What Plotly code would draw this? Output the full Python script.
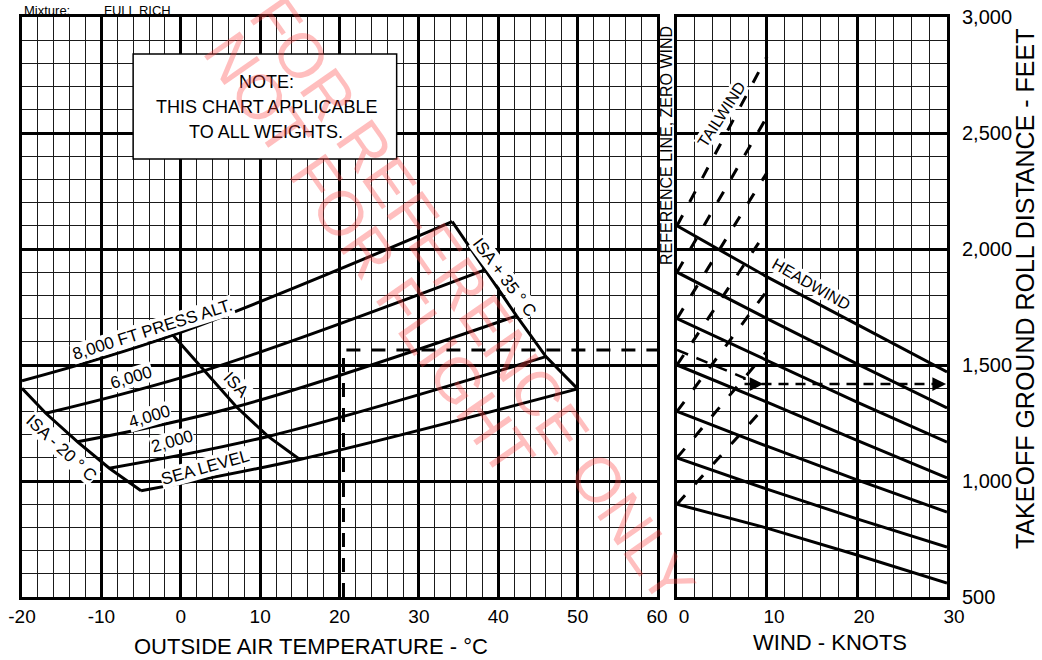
import plotly.graph_objects as go

# ---------------- data ----------------
# Left panel: outside air temperature (deg C) vs takeoff ground roll (ft)
oat_ticks = [-20, -10, 0, 10, 20, 30, 40, 50, 60]
oat_tick_labels = ["-20", "-10", "0", "10", "20", "30", "40", "50", "60"]

sl_oat = [-5, 15, 50]
sl_roll = [958, 1093, 1397]
alt2000_oat = [-9, 11, 46]
alt2000_roll = [1055, 1192, 1536]
alt4000_oat = [-13, 7, 42.3]
alt4000_roll = [1169, 1320, 1712]
alt6000_oat = [-17, 3, 38.3]
alt6000_roll = [1292, 1476, 1910]
alt8000_oat = [-20, -1, 34.2]
alt8000_roll = [1432, 1629, 2118]

isa_m20_oat = [-20, -17, -13, -9, -5]
isa_m20_roll = [1400, 1292, 1169, 1055, 958]
isa_oat = [-1, 3, 7, 11, 15]
isa_roll = [1629, 1476, 1320, 1192, 1093]
isa_p35_oat = [34.2, 38.3, 42.3, 46, 50]
isa_p35_roll = [2118, 1910, 1712, 1536, 1397]

# Right panel: wind (knots)
wind_ticks = [0, 10, 20, 30]
wind_tick_labels = ["0", "10", "20", "30"]
roll_ticks = [500, 1000, 1500, 2000, 2500, 3000]
roll_tick_labels = ["500", "1,000", "1,500", "2,000", "2,500", "3,000"]

headwind_kts = [0, 10, 20, 30]
headwind_rolls = [
    [2100, 1880, 1675, 1470],
    [1900, 1700, 1505, 1315],
    [1700, 1520, 1340, 1168],
    [1500, 1340, 1175, 1013],
    [1300, 1150, 1005, 866],
    [1100, 965, 837, 715],
    [900, 797, 681, 560],
]
tailwind_kts = [0, 10]
tailwind_rolls = [
    [2100, 2830],
    [1900, 2570],
    [1700, 2330],
    [1500, 2080],
    [1300, 1820],
    [1100, 1560],
    [900, 1330],
]

# Example (dashed) path
ex_oat = [20.5, 20.5, 60]
ex_roll = [500, 1565, 1565]
ex_wind_diag = [0, 7.5, 7.5]
ex_wind_diag_roll = [1565, 1444, 1418]
ex_wind_out = [7.5, 29.6]
ex_wind_out_roll = [1418, 1418]

FONT = "Liberation Sans, Arial, sans-serif"

fig = go.Figure()


def add_line(x, y, xa, ya, dash="solid", width=3, shape="linear"):
    fig.add_trace(go.Scatter(
        x=x, y=y, xaxis=xa, yaxis=ya, mode="lines",
        line=dict(color="black", width=width, dash=dash, shape=shape),
        hoverinfo="skip", showlegend=False))


for xs, ys in [(sl_oat, sl_roll), (alt2000_oat, alt2000_roll), (alt4000_oat, alt4000_roll),
               (alt6000_oat, alt6000_roll), (alt8000_oat, alt8000_roll)]:
    add_line(xs, ys, "x", "y", shape="spline")
add_line(isa_m20_oat, isa_m20_roll, "x", "y")
add_line(isa_oat, isa_roll, "x", "y")
add_line(isa_p35_oat, isa_p35_roll, "x", "y")

# example path left panel
add_line(ex_oat, ex_roll, "x", "y", dash="14px,11px", width=3)

for r in headwind_rolls:
    add_line(headwind_kts, r, "x2", "y2")
for r in tailwind_rolls:
    add_line(tailwind_kts, r, "x2", "y2", dash="12px,15px", width=3)

add_line(ex_wind_diag, ex_wind_diag_roll, "x2", "y2", dash="12px,9px", width=2.5)
add_line(ex_wind_out, ex_wind_out_roll, "x2", "y2", dash="10px,7px", width=2.5)

grid_major = dict(showgrid=True, gridcolor="black", gridwidth=2.5)
grid_minor_col = "#1a1a1a"
common = dict(automargin=False, ticks="", showline=True, linecolor="black", linewidth=3,
              mirror=True, zeroline=False, **grid_major)

fig.update_layout(
    width=1042, height=660,
    margin=dict(l=22, r=95, t=17, b=63, autoexpand=False),
    paper_bgcolor="white", plot_bgcolor="white",
    font=dict(family=FONT, color="black"),
    xaxis=dict(domain=[0, 0.6865], range=[-20, 60], anchor="y",
               tickmode="array", tickvals=oat_ticks, ticktext=oat_tick_labels,
               tickfont=dict(size=19), ticklabelstandoff=0,
               minor=dict(tickmode="linear", tick0=-20, dtick=2, showgrid=True,
                          gridcolor=grid_minor_col, gridwidth=1.1, ticks=""),
               **common),
    yaxis=dict(domain=[0, 1], range=[500, 3000], anchor="x",
               tickmode="array", tickvals=roll_ticks, showticklabels=False,
               minor=dict(tickmode="linear", tick0=500, dtick=100, showgrid=True,
                          gridcolor=grid_minor_col, gridwidth=1.1, ticks=""),
               **common),
    xaxis2=dict(domain=[0.7081, 1], range=[0, 30], anchor="y2",
                tickmode="array", tickvals=wind_ticks, ticktext=wind_tick_labels,
                tickfont=dict(size=19), ticklabelstandoff=0, ticklabelshift=7,
                minor=dict(tickmode="linear", tick0=0, dtick=2, showgrid=True,
                           gridcolor=grid_minor_col, gridwidth=1.1, ticks=""),
                **common),
    yaxis2=dict(domain=[0, 1], range=[500, 3000], anchor="x2", side="right",
                tickmode="array", tickvals=roll_ticks, ticktext=roll_tick_labels,
                tickfont=dict(size=20), ticklabelstandoff=8,
                minor=dict(tickmode="linear", tick0=500, dtick=100, showgrid=True,
                           gridcolor=grid_minor_col, gridwidth=1.1, ticks=""),
                **common),
)

# NOTE box
fig.add_shape(type="rect", xref="x", yref="y", x0=-6, x1=27.2, y0=2388, y1=2840,
              fillcolor="white", line=dict(color="black", width=1.5), layer="above")

ann = []


def label(text, x, y, xref="x", yref="y", size=17, angle=0, bg="white",
          xanchor="center", yanchor="middle"):
    ann.append(dict(text=text, x=x, y=y, xref=xref, yref=yref, showarrow=False,
                    textangle=angle, bgcolor=bg, borderpad=0,
                    xanchor=xanchor, yanchor=yanchor,
                    font=dict(family=FONT, size=size, color="black")))


label("NOTE:", 10.8, 2721, size=18, bg=None)
label("THIS CHART APPLICABLE", 10.8, 2612, size=18, bg=None)
label("TO ALL WEIGHTS.", 10.8, 2505, size=18, bg=None)

label("8,000 FT PRESS ALT.", -3.5, 1655, angle=-17.5)
label("6,000", -6.2, 1445, angle=-17)
label("4,000", -3.9, 1279, angle=-17)
label("2,000", -1.1, 1170, angle=-16)
label("SEA LEVEL", 3.1, 1057, angle=-15.5)
label("ISA", 6.9, 1414, angle=47)
label("ISA - 20 ° C", -15.0, 1141, angle=43)
label("ISA + 35 ° C", 40.8, 1878, angle=53)
label("TAILWIND", 4.97, 2578, xref="x2", yref="y2", size=16, angle=-57)
label("HEADWIND", 14.97, 1849, xref="x2", yref="y2", size=16, angle=30)
label("REFERENCE LINE, ZERO WIND", 0.6973, 2444, xref="paper", yref="y2", size=16, angle=-90, bg=None)

label("Mixture:", 0.001, 1.012, xref="paper", yref="paper", size=13, bg=None, xanchor="left")
label("FULL RICH", 0.0876, 1.012, xref="paper", yref="paper", size=13, bg=None, xanchor="left")

label("OUTSIDE AIR TEMPERATURE - °C", 0.3124, -0.086, xref="paper", yref="paper", size=22, bg=None)
label("WIND - KNOTS", 0.8735, -0.0793, xref="paper", yref="paper", size=22, bg=None)
label("TAKEOFF GROUND ROLL DISTANCE - FEET", 1.0843, 0.531, xref="paper", yref="paper",
      size=25, angle=-90, bg=None)

# arrowheads of the example path
ann.append(dict(x=-0.4, y=1565, xref="x2", yref="y2", ax=-14, ay=0, axref="pixel", ayref="pixel",
                text="", showarrow=True, arrowhead=2, arrowsize=1.2, arrowwidth=2.5, arrowcolor="black"))
ann.append(dict(x=9.6, y=1418, xref="x2", yref="y2", ax=-14, ay=0,
                text="", showarrow=True, arrowhead=2, arrowsize=1.1, arrowwidth=2.5, arrowcolor="black"))
ann.append(dict(x=29.9, y=1418, xref="x2", yref="y2", ax=-14, ay=0,
                text="", showarrow=True, arrowhead=2, arrowsize=1.1, arrowwidth=2.5, arrowcolor="black"))

# watermark
for txt, px, py in [("FOR REFERENCE ONLY", 0.487, 0.512), ("NOT FOR FLIGHT", 0.376, 0.592)]:
    ann.append(dict(text=txt, x=px, y=py, xref="paper", yref="paper", showarrow=False,
                    xanchor="center", yanchor="middle",
                    textangle=55, font=dict(family=FONT, size=63, color="rgba(255,70,70,0.35)")))

fig.update_layout(annotations=ann)

fig.write_html("out.html", config={"displayModeBar": False},
               post_script="document.body.style.margin='0';")
